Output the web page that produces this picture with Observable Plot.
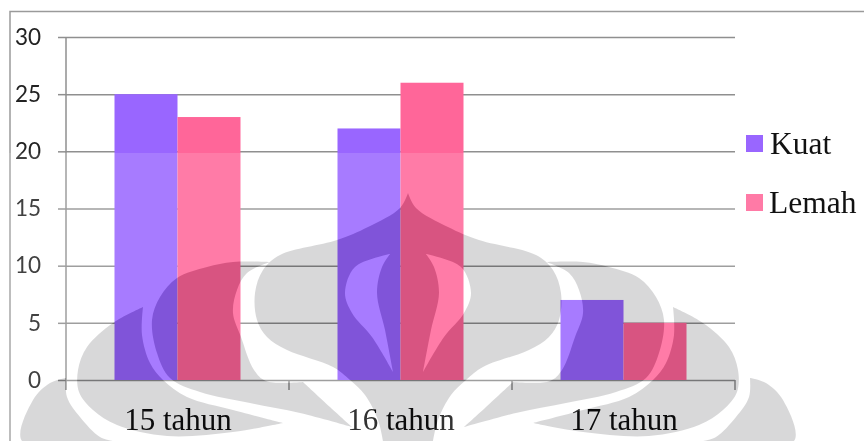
<!DOCTYPE html>
<html>
<head>
<meta charset="utf-8">
<style>html,body{margin:0;padding:0;background:#fff}svg{display:block}</style>
<script src="https://cdn.jsdelivr.net/npm/d3@7"></script>
<script src="https://cdn.jsdelivr.net/npm/@observablehq/plot@0.6"></script>
</head>
<body>
<div id="chart"></div>
<script>
// Grip strength by age group
const ages = ["15 tahun", "16 tahun", "17 tahun"];
const series = ["Kuat", "Lemah"];
const kuat = [25, 22, 7];
const lemah = [23, 26, 5];
const yTicks = [0, 5, 10, 15, 20, 25, 30];
const colors = ["#9966ff", "#ff6699"];

const rows = ages.flatMap((age, i) => [
  {age, series: series[0], value: kuat[i]},
  {age, series: series[1], value: lemah[i]}
]);

const axisGray = "#8f8f8f";
const serif = "'Liberation Serif', serif";

const svg = Plot.plot({
  width: 864,
  height: 441,
  marginTop: 37,
  marginBottom: 61,
  marginLeft: 65.5,
  marginRight: 129.5,
  style: {background: "white"},
  fx: {domain: ages, padding: 0, axis: null},
  x: {domain: series, axis: null, paddingInner: 0, paddingOuter: 0.753},
  y: {domain: [0, 30], axis: null},
  color: {domain: series, range: colors},
  marks: [
    Plot.ruleY(yTicks, {stroke: axisGray, strokeWidth: 1.5, strokeOpacity: 1}),
    Plot.barY(rows, {fx: "age", x: "series", y: "value", fill: "series"}),
    Plot.axisY({
      ticks: yTicks, tickSize: 8, tickPadding: 17.5, label: null,
      stroke: axisGray, strokeWidth: 1.5, strokeOpacity: 1,
      fontSize: 22.5, fontFamily: "Lato", fill: "#222"
    }),
    Plot.axisFx({
      anchor: "bottom", tickSize: 0, tickPadding: 27, label: null,
      fontSize: 31, fontFamily: serif, fill: "#111"
    })
  ]
});

const root = d3.select(svg);
const fx = svg.scale("fx");
const y = svg.scale("y");
const left = fx.apply(ages[0]);
const band = fx.bandwidth;
const base = y.apply(0);

// Category separators and the value axis line
const axisLayer = root.append("g").attr("stroke", axisGray).attr("stroke-width", 1.5);
d3.range(ages.length + 1).forEach(i => {
  const px = left + i * band;
  axisLayer.append("line").attr("x1", px).attr("x2", px).attr("y1", base).attr("y2", base + 10);
});
axisLayer.append("line").attr("x1", left).attr("x2", left).attr("y1", y.apply(30)).attr("y2", base);

// Outer border, open to the right and below
root.append("path").attr("fill", "none").attr("stroke", "#9a9a9a").attr("stroke-width", 1.5)
  .attr("d", "M864,11.5H10V441");

// Pale wash over the lower part of the page
root.append("rect").attr("x", 0).attr("y", 153).attr("width", 864).attr("height", 288)
  .attr("fill", "white").attr("fill-opacity", 0.14);

// Grey university emblem printed across the page
const axisOfEmblem = 408;
const mirror = pts => pts.map(([a, b]) => [2 * axisOfEmblem - a, b]);
const outerLeaf = [[22,441],[33,400],[50,383],[66,378],[66,378],[67,397],[80,417],[100,437],[113,441],[113,441]];
const lowerSwoosh = [[143,307],[143,307],[142,335],[150,363],[163,380],[187,397],[233,410],[283,423],[283,423],
  [233,432],[167,436],[117,425],[93,410],[79,392],[78,370],[87,347],[113,323]];
const crescent = [[177,278],[207,267],[233,262],[270,262],[270,262],[247,273],[237,290],[233,313],[241,337],[254,370],[266,381],
  [303,382],[303,382],[330,407],[352,427],[352,427],[300,413],[250,403],[200,392],[170,378],[157,353],[152,320],[160,297]];
const crownLeft = [[408,193],[408,193],[400,208],[368,227],[337,240],[280,255],[263,270],[255,293],[257,320],[267,337],
  [287,350],[333,367],[350,380],[365,395],[378,420],[383,441],[383,441]];
const crown = crownLeft.concat(mirror(crownLeft).reverse().slice(0, -2));
const flame = [[390,254],[390,254],[355,267],[345,293],[352,313],[372,337],[393,372],[393,372],[385,330],[377,293],[382,267]];

const closed = d3.line().curve(d3.curveCatmullRomClosed.alpha(0.5));
const emblem = root.append("g")
  .style("mix-blend-mode", "difference")
  .style("filter", "blur(0.7px)")
  .attr("fill", "rgb(39,39,38)");
[outerLeaf, lowerSwoosh, crescent].forEach(shape => {
  emblem.append("path").attr("d", closed(shape));
  emblem.append("path").attr("d", closed(mirror(shape)));
});
emblem.append("path").attr("fill-rule", "evenodd")
  .attr("d", closed(crown) + closed(flame) + closed(mirror(flame)));

// Tick labels stay on top of the emblem
root.selectAll("text").each(function() {
  const g = this.parentNode;
  if (g.parentNode) g.parentNode.appendChild(g);
});

// Legend
const legendY = [135, 194];
const legendX = [770, 769];
series.forEach((name, i) => {
  root.append("rect").attr("x", 746).attr("y", legendY[i]).attr("width", 17).attr("height", 17)
    .attr("fill", i === 0 ? colors[0] : "#ff7aa6");
  root.append("text").attr("x", legendX[i]).attr("y", legendY[i] + 18.5)
    .attr("text-anchor", "start")
    .attr("font-family", serif).attr("font-size", 31.5).attr("fill", "#111").text(name);
});

document.getElementById("chart").appendChild(svg);
</script>
</body>
</html>
